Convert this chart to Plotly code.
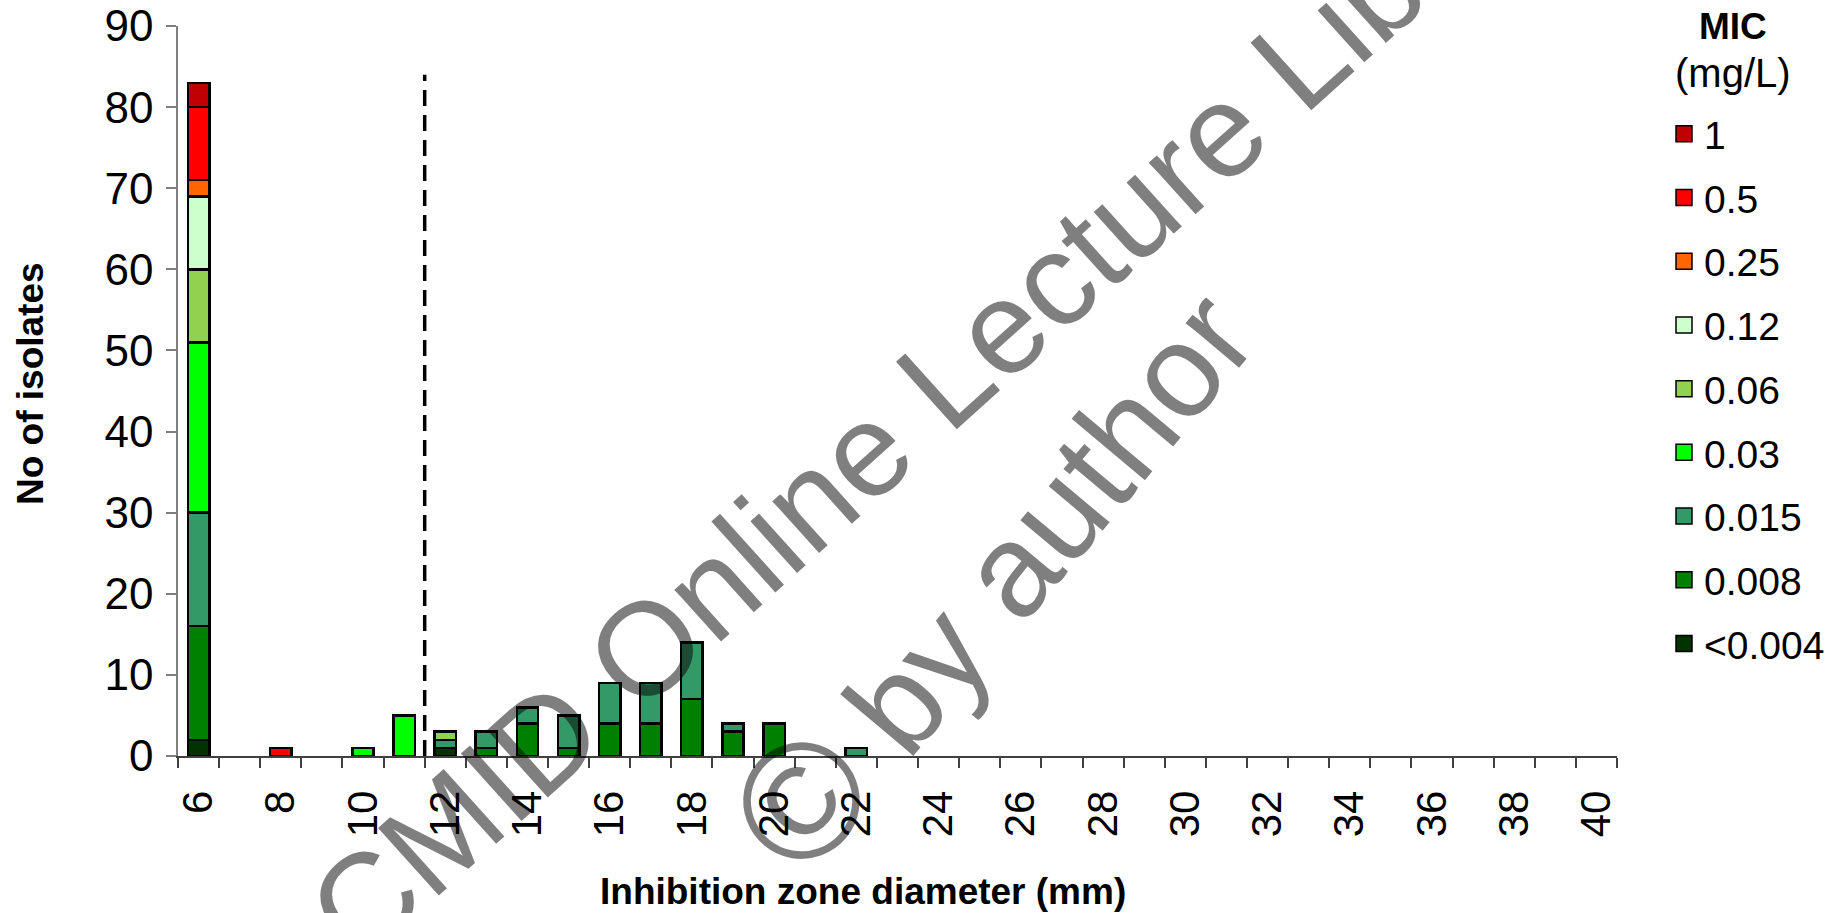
import plotly.graph_objects as go

# ---------------- data ----------------
zone_mm = list(range(6, 41))          # inhibition zone diameter categories (mm)
x_tick_labels = list(range(6, 41, 2))

mic_labels = ["<0.004", "0.008", "0.015", "0.03", "0.06", "0.12", "0.25", "0.5", "1"]
mic_colors = ["#003300", "#008000", "#339966", "#00FF00", "#92D050",
              "#CCFFCC", "#FF6600", "#FF0000", "#C00000"]

#            6  7  8  9 10 11 12 13 14 15 16 17 18 19 20 21 22 23 ... 40
mic_lt0004 = [2, 0, 0, 0, 0, 0, 1, 0, 0, 0, 0, 0, 0, 0, 0, 0, 0] + [0] * 18
mic_0008   = [14, 0, 0, 0, 0, 0, 0, 1, 4, 1, 4, 4, 7, 3, 4, 0, 0] + [0] * 18
mic_0015   = [14, 0, 0, 0, 0, 0, 1, 2, 2, 4, 5, 5, 7, 1, 0, 0, 1] + [0] * 18
mic_003    = [21, 0, 0, 0, 1, 5, 0, 0, 0, 0, 0, 0, 0, 0, 0, 0, 0] + [0] * 18
mic_006    = [9, 0, 0, 0, 0, 0, 1, 0, 0, 0, 0, 0, 0, 0, 0, 0, 0] + [0] * 18
mic_012    = [9, 0, 0, 0, 0, 0, 0, 0, 0, 0, 0, 0, 0, 0, 0, 0, 0] + [0] * 18
mic_025    = [2, 0, 0, 0, 0, 0, 0, 0, 0, 0, 0, 0, 0, 0, 0, 0, 0] + [0] * 18
mic_05     = [9, 0, 1, 0, 0, 0, 0, 0, 0, 0, 0, 0, 0, 0, 0, 0, 0] + [0] * 18
mic_1      = [3, 0, 0, 0, 0, 0, 0, 0, 0, 0, 0, 0, 0, 0, 0, 0, 0] + [0] * 18

series = [mic_lt0004, mic_0008, mic_0015, mic_003, mic_006,
          mic_012, mic_025, mic_05, mic_1]

breakpoint_mm = 11.5      # zone diameter breakpoint (dashed line)
breakpoint_top = 84       # height of the dashed line (isolates)

FONT = "Liberation Sans, Arial, sans-serif"
W, H = 1835, 913
PL, PR, PT, PB = 178, 1617, 26, 756   # plot-area edges in pixels


def px(x):
    return (x - PL) / (PR - PL)


def py(y):
    return (PB - y) / (PB - PT)


fig = go.Figure()

# stacked bars
for label, color, vals in zip(mic_labels, mic_colors, series):
    fig.add_trace(go.Bar(
        x=zone_mm,
        y=[v if v else None for v in vals],
        name=label,
        marker=dict(color=color, line=dict(color="black", width=2.5)),
        showlegend=False,
        hoverinfo="x+y+name",
    ))

# legend entries (top-down order as in reference)
for label, color in zip(mic_labels[::-1], mic_colors[::-1]):
    fig.add_trace(go.Scatter(
        x=[None], y=[None], mode="markers", name=label,
        legendgroup=label,
        marker=dict(symbol="square", size=18, color=color,
                    line=dict(color="black", width=1.5)),
    ))

# breakpoint dashed line
fig.add_trace(go.Scatter(
    x=[breakpoint_mm, breakpoint_mm], y=[0, breakpoint_top],
    mode="lines", line=dict(color="black", width=3.5, dash="16px,9px"),
    showlegend=False, hoverinfo="skip",
))

fig.update_layout(
    width=W, height=H,
    margin=dict(l=PL, r=W - PR, t=PT, b=H - PB, autoexpand=False),
    paper_bgcolor="white", plot_bgcolor="white",
    barmode="stack", bargap=0.48,
    font=dict(family=FONT, size=36, color="black"),
    showlegend=True,
    legend=dict(
        xref="container", yref="container",
        x=1664 / W, xanchor="left", y=1 - 102 / H, yanchor="top",
        traceorder="grouped", tracegroupgap=10,
        font=dict(size=39, family=FONT),
        bgcolor="rgba(0,0,0,0)",
        itemwidth=30, maxheight=1.0,
    ),
)

fig.update_xaxes(
    type="linear", range=[5.5, 40.5],
    tickmode="array", tickvals=x_tick_labels, ticktext=[str(v) for v in x_tick_labels],
    tickangle=-90, ticks="outside", ticklen=10, tickcolor="rgba(0,0,0,0)",
    ticklabelstandoff=6,
    minor=dict(tick0=5.5, dtick=1, ticks="outside", ticklen=10,
               tickcolor="#404040", tickwidth=1.5, showgrid=False),
    showline=True, linecolor="#404040", linewidth=1.5,
    showgrid=False, zeroline=False,
    tickfont=dict(size=42, family=FONT),
)
fig.update_yaxes(
    range=[0, 90], dtick=10, ticks="outside", ticklen=10,
    tickcolor="#7f7f7f", tickwidth=1.5,
    ticklabelstandoff=4,
    showline=True, linecolor="#7f7f7f", linewidth=1.5,
    showgrid=False, zeroline=False,
    tickfont=dict(size=44, family=FONT),
)

# axis titles
fig.add_annotation(text="<b>No of isolates</b>", xref="paper", yref="paper",
                   x=px(30), y=py(384), xanchor="center", yanchor="middle",
                   textangle=-90, showarrow=False, font=dict(size=37, family=FONT))
fig.add_annotation(text="<b>Inhibition zone diameter (mm)</b>", xref="paper", yref="paper",
                   x=px(863), y=py(891), xanchor="center", yanchor="middle",
                   showarrow=False, font=dict(size=37, family=FONT))

# legend heading
fig.add_annotation(text="<b>MIC</b>", xref="paper", yref="paper",
                   x=px(1733), y=py(26), xanchor="center", yanchor="middle",
                   showarrow=False, font=dict(size=37, family=FONT))
fig.add_annotation(text="(mg/L)", xref="paper", yref="paper",
                   x=px(1733), y=py(73), xanchor="center", yanchor="middle",
                   showarrow=False, font=dict(size=40, family=FONT))

# watermark (two rotated lines)
WM = "rgba(0,0,0,0.5)"
fig.add_annotation(text="ESCMID Online Lecture Library", xref="paper", yref="paper",
                   x=px(885), y=py(432), xanchor="center", yanchor="middle",
                   textangle=-42, showarrow=False,
                   font=dict(size=132, family=FONT, color=WM))
fig.add_annotation(text="<span style='font-size:165px'>©</span> by author",
                   xref="paper", yref="paper",
                   x=px(990), y=py(576), xanchor="center", yanchor="middle",
                   textangle=-50, showarrow=False,
                   font=dict(size=132, family=FONT, color=WM))

fig.write_html("out.html", config={"displayModeBar": False},
               post_script="document.body.style.margin='0px';")
